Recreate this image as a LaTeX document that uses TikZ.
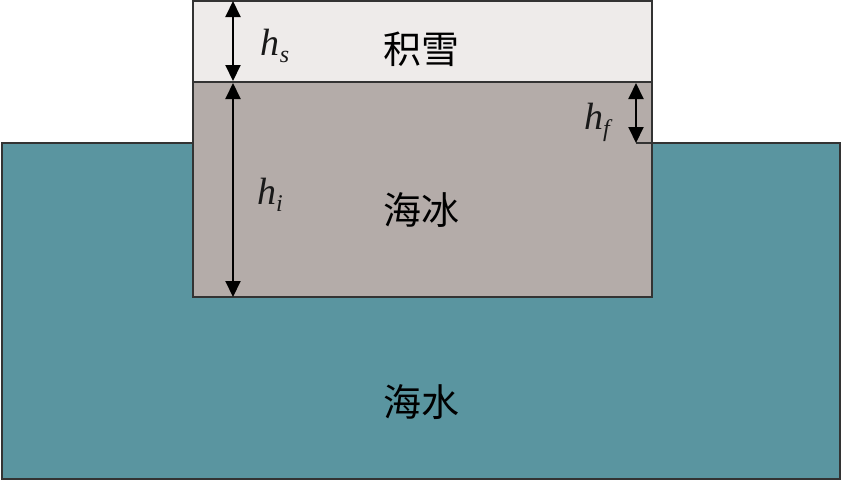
\documentclass[tikz,border=0pt]{standalone}
\usepackage{fontspec}
\setmainfont{Liberation Serif}
\newfontfamily\tms{Liberation Serif}
\newfontfamily\cjk{Noto Sans CJK SC}
\usetikzlibrary{arrows.meta}
\definecolor{snowc}{HTML}{EEEBEA}
\definecolor{icec}{HTML}{B4ACA9}
\definecolor{waterc}{HTML}{5A95A0}
\definecolor{edgec}{HTML}{333333}
\newcommand{\hsym}[1]{{\tms\fontsize{38}{38}\selectfont\itshape h}\raisebox{-7pt}{\tms\fontsize{24}{24}\selectfont\itshape #1}}
\tikzset{
  box/.style={draw=edgec, line width=2pt},
  dim/.style={draw=black, line width=2pt, {Triangle[length=16pt,width=15pt]}-{Triangle[length=16pt,width=15pt]}},
  zh/.style={font=\cjk\fontsize{38}{38}\selectfont, text=black, inner sep=0pt},
  sym/.style={text=black!90, inner sep=0pt}
}
\begin{document}
\begin{tikzpicture}[x=1pt,y=-1pt]
\useasboundingbox (0,0) rectangle (844,483);
% water
\draw[box, fill=waterc] (2,143) rectangle (840,479);
% ice and snow
\draw[box, fill=icec] (193,82) rectangle (652,297);
\draw[box, fill=snowc] (193,1) rectangle (652,82);
\draw[box] (636,143) -- (652,143);
% coordinates
\coordinate (st) at (233,1);
\coordinate (sb) at (233,81);
\coordinate (it) at (233,83);
\coordinate (ib) at (233,297);
\coordinate (ft) at (636,83);
\coordinate (fb) at (636,143);
\draw[dim] (st) -- (sb);
\draw[dim] (it) -- (ib);
\draw[dim] (ft) -- (fb);
% labels
\node[sym] (hs) at (275,46) {\hsym{s}};
\node[sym] (hi) at (270,195) {\hsym{i}};
\node[sym] (hf) at (597,122) {\hsym{f}};
\node[zh] (snow) at (421,49) {积雪};
\node[zh] (ice) at (421,210) {海冰};
\node[zh] (water) at (421,402) {海水};
\end{tikzpicture}
\end{document}
